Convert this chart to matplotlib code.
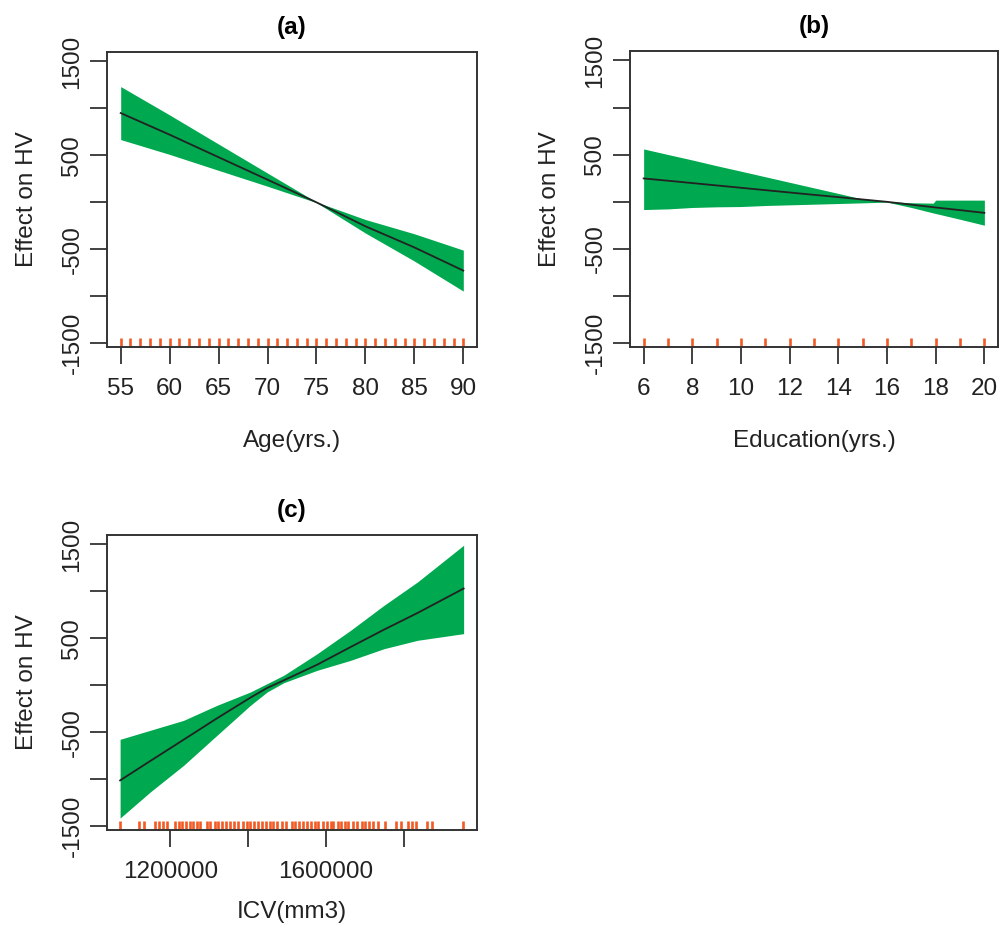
import numpy as np
import matplotlib
matplotlib.use("Agg")
import matplotlib.pyplot as plt

plt.rcParams['font.family'] = ['Liberation Sans', 'DejaVu Sans']

# (a) age effect
age = [55, 60, 65, 70, 75, 80, 85, 90]
age_fit = [950, 720, 480, 241, 0, -255, -480, -727]
age_upper = [1232, 930, 620, 311, 3, -183, -335, -509]
age_lower = [668, 510, 340, 171, -3, -327, -625, -945]
age_rug = list(range(55, 91))

# (b) education effect
edu = [6, 7, 8, 9, 10, 11, 12, 13, 14, 15, 16, 17, 17.9, 18, 19, 20]
edu_fit = [248, 224, 199, 174, 149, 124, 99, 74, 50, 25, 0, -30, -57, -60, -88, -117]
edu_upper = [561, 502, 444, 383, 325, 266, 207, 148, 89, 29, 3, -10, -14, 18, 18, 18]
edu_lower = [-82, -75, -60, -53, -50, -39, -32, -25, -18, -11, -3, -60, -118, -124, -185, -248]
edu_rug = list(range(6, 21))

# (c) ICV effect
icv = [1071400, 1148600, 1234300, 1320000, 1405700, 1448600, 1491400,
       1577200, 1662900, 1748600, 1834400, 1952700]
icv_fit = [-1012, -806, -579, -351, -131, -28, 53, 220, 408, 593, 770, 1030]
icv_upper = [-575, -479, -373, -213, -71, 18, 107, 337, 586, 852, 1100, 1491]
icv_lower = [-1413, -1136, -852, -532, -213, -71, 28, 160, 266, 390, 479, 550]
icv_rug = [1072000, 1120500, 1133300, 1159700, 1171800, 1181300, 1191500,
           1211000, 1221300, 1230000, 1241000, 1251300, 1258200, 1268500,
           1276900, 1294100, 1302600, 1313600, 1322300, 1332600, 1343600,
           1353800, 1364100, 1375100, 1386400, 1396700, 1405100, 1415400,
           1426400, 1435100, 1446100, 1456400, 1464900, 1473600, 1486400,
           1497400, 1512000, 1520500, 1531500, 1540200, 1550500, 1560800,
           1571800, 1580200, 1593100, 1603300, 1612000, 1618700, 1631500,
           1637700, 1648700, 1657200, 1670000, 1678700, 1691500, 1700000,
           1711000, 1719700, 1732500, 1751300, 1779500, 1791500, 1811000,
           1819700, 1830700, 1859700, 1871000, 1952000]

GREEN = '#00a94f'
RUG = '#f15a24'
FS = 17.5

fig = plt.figure(figsize=(10.03, 9.32), dpi=100)
W, H = 1003, 932


def make_ax(l, t, r, b):
    return fig.add_axes([l / W, 1 - b / H, (r - l) / W, (b - t) / H])


def panel(ax, x, fit, lo, hi, rug, xlim, xticks, xticklabels, title, xlabel, xlabelpad):
    ax.fill_between(x, lo, hi, color=GREEN, lw=0)
    ax.plot(x, fit, color='#222222', lw=1.3)
    ax.vlines(rug, 0, 0.03, color=RUG, lw=1.9, transform=ax.get_xaxis_transform())
    ax.set_xlim(*xlim)
    ax.set_ylim(-1540, 1600)
    ax.set_xticks(xticks)
    ax.set_xticklabels(xticklabels)
    yt = [-1500, -1000, -500, 0, 500, 1000, 1500]
    ax.set_yticks(yt)
    ax.set_yticklabels(['-1500', '', '-500', '', '500', '', '1500'],
                       rotation=90, va='center')
    ax.tick_params(axis='both', length=12, width=1.3, color='#333333',
                   labelsize=FS, labelcolor='#222222')
    ax.tick_params(axis='x', pad=10)
    ax.tick_params(axis='y', pad=5)
    for s in ax.spines.values():
        s.set_linewidth(1.4)
        s.set_color('#333333')
    ax.set_title(title, fontsize=FS, fontweight='bold', pad=13)
    ax.set_xlabel(xlabel, fontsize=FS, labelpad=xlabelpad, color='#222222')
    ax.set_ylabel('Effect on HV', fontsize=FS, labelpad=17, color='#222222')


ax1 = make_ax(107, 52, 477, 347)
panel(ax1, age, age_fit, age_lower, age_upper, age_rug, (53.6, 91.4),
      [55, 60, 65, 70, 75, 80, 85, 90],
      ['55', '60', '65', '70', '75', '80', '85', '90'], '(a)', 'Age(yrs.)', 22)

ax2 = make_ax(630, 51, 998, 347)
panel(ax2, edu, edu_fit, edu_lower, edu_upper, edu_rug, (5.44, 20.56),
      [6, 8, 10, 12, 14, 16, 18, 20],
      ['6', '8', '10', '12', '14', '16', '18', '20'], '(b)', 'Education(yrs.)', 22)

ax3 = make_ax(107, 535, 477, 830)
panel(ax3, icv, icv_fit, icv_lower, icv_upper, icv_rug, (1037800, 1987000),
      [1200000, 1400000, 1600000, 1800000],
      ['1200000', '', '1600000', ''], '(c)', 'ICV(mm3)', 13)

fig.savefig('out.png', dpi=100)
